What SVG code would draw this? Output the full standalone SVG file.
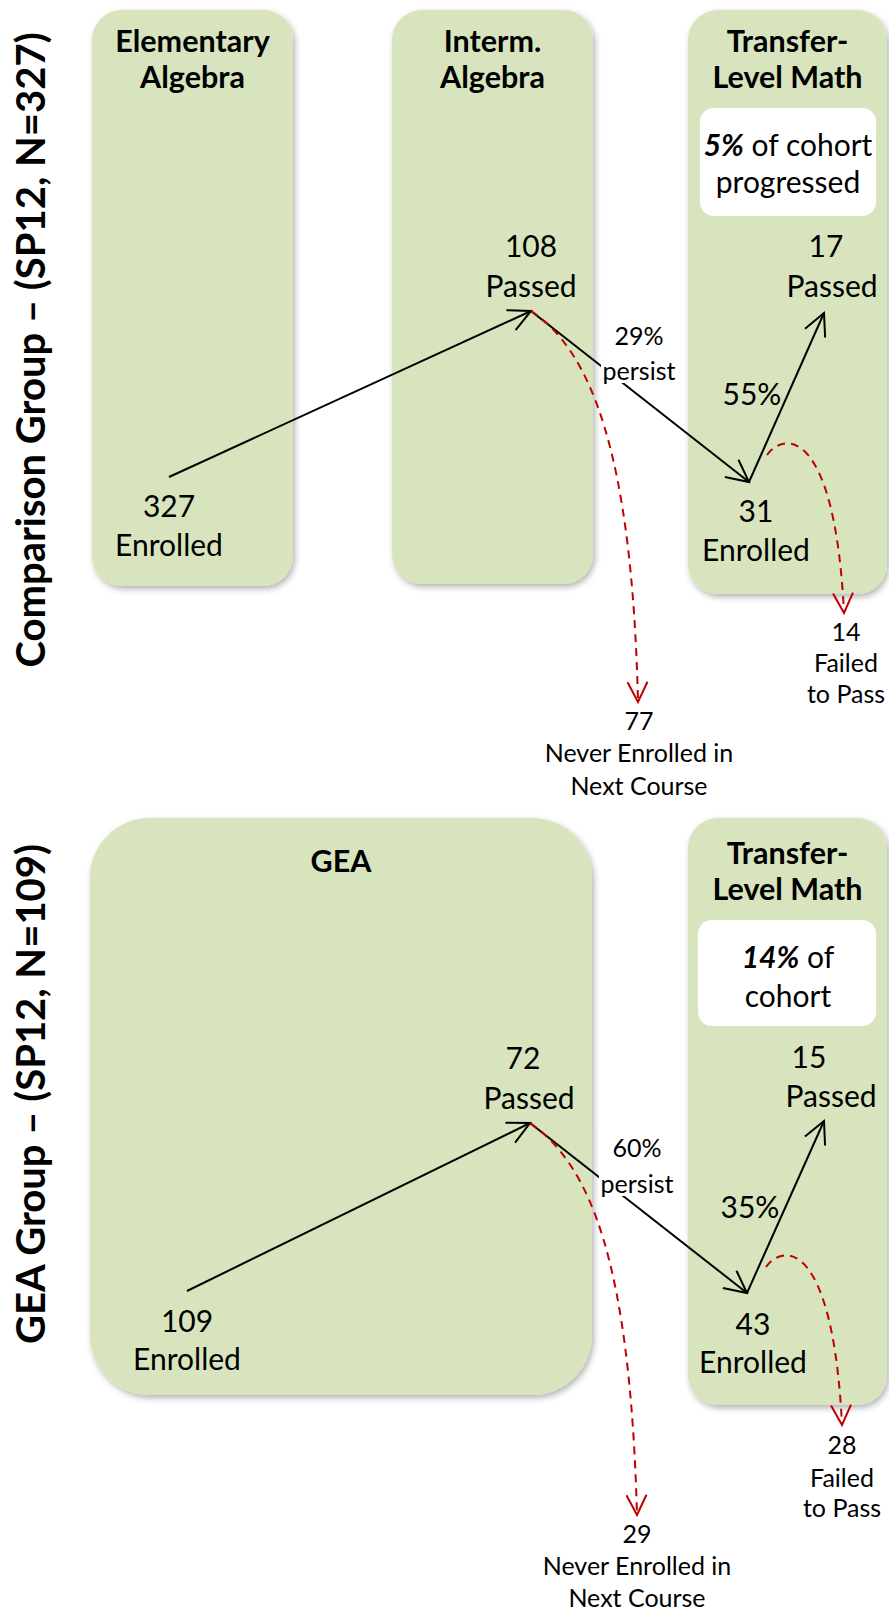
<svg xmlns="http://www.w3.org/2000/svg" width="889" height="1611" viewBox="0 0 889 1611">
<style>
text{font-family:Lato,"Liberation Sans",sans-serif;fill:#000;text-anchor:middle}
.box{fill:#D7E4BD;filter:url(#sh)}
.wbox{fill:#fff}
.h{font-weight:bold;font-size:30.5px}
.m{font-size:30px}
.s{font-size:25px}
.side{font-weight:bold;font-size:40px}
.ln{fill:none;stroke:#000;stroke-width:2;marker-end:url(#ab)}
.rd{fill:none;stroke:#C00000;stroke-width:2;stroke-dasharray:8 6;marker-end:url(#ar)}
</style>
<defs>
<filter id="sh" x="-10%" y="-10%" width="120%" height="120%">
<feDropShadow dx="2" dy="3" stdDeviation="3" flood-color="#000" flood-opacity="0.3"/>
</filter>
<marker id="ab" markerUnits="userSpaceOnUse" markerWidth="26" markerHeight="26" refX="22" refY="11" orient="auto" viewBox="-2 -2 26 26">
<path d="M0,0 L22,11 L0,22" fill="none" stroke="#000" stroke-width="2"/>
</marker>
<marker id="ar" markerUnits="userSpaceOnUse" markerWidth="24" markerHeight="24" refX="20" refY="10" orient="auto" viewBox="-2 -2 24 24">
<path d="M0,0 L20,10 L0,20" fill="none" stroke="#C00000" stroke-width="2"/>
</marker>
</defs>

<g id="label-comparison"><text class="side" transform="translate(45,350) rotate(-90)">Comparison Group – (SP12, N=327)</text></g>
<g id="label-gea"><text class="side" transform="translate(45,1094) rotate(-90)">GEA Group – (SP12, N=109)</text></g>

<g id="elementary">
<rect class="box" x="92" y="10" width="201" height="576" rx="30"/>
<text class="h" x="192.5" y="52">Elementary</text>
<text class="h" x="192.5" y="88">Algebra</text>
<text class="m" x="169" y="517">327</text>
<text class="m" x="169" y="556">Enrolled</text>
</g>
<g id="intermediate">
<rect class="box" x="392" y="10" width="201" height="574" rx="30"/>
<text class="h" x="492.5" y="52">Interm.</text>
<text class="h" x="492.5" y="88">Algebra</text>
<text class="m" x="531" y="257">108</text>
<text class="m" x="531" y="297">Passed</text>
</g>
<g id="transfer-top">
<rect class="box" x="688" y="10" width="199" height="584" rx="30"/>
<text class="h" x="787.5" y="52">Transfer-</text>
<text class="h" x="787.5" y="88">Level Math</text>
<rect class="wbox" x="700" y="108" width="176" height="108" rx="14"/>
<text class="m" x="788" y="156"><tspan font-weight="bold" font-style="italic">5%</tspan> of cohort</text>
<text class="m" x="788" y="193">progressed</text>
<text class="m" x="826" y="257">17</text>
<text class="m" x="832" y="297">Passed</text>
<text class="m" x="756" y="522">31</text>
<text class="m" x="756" y="561">Enrolled</text>
</g>

<g id="gea">
<rect class="box" x="90" y="818" width="502" height="577" rx="60"/>
<text class="h" x="341" y="872">GEA</text>
<text class="m" x="187" y="1332">109</text>
<text class="m" x="187" y="1370">Enrolled</text>
<text class="m" x="523" y="1069">72</text>
<text class="m" x="529" y="1109">Passed</text>
</g>
<g id="transfer-bottom">
<rect class="box" x="688" y="818" width="199" height="587" rx="30"/>
<text class="h" x="787.5" y="864">Transfer-</text>
<text class="h" x="787.5" y="900">Level Math</text>
<rect class="wbox" x="698" y="920" width="178" height="106" rx="14"/>
<text class="m" x="788" y="968"><tspan font-weight="bold" font-style="italic">14%</tspan> of</text>
<text class="m" x="788" y="1007">cohort</text>
<text class="m" x="809" y="1068">15</text>
<text class="m" x="831" y="1107">Passed</text>
<text class="m" x="753" y="1335">43</text>
<text class="m" x="753" y="1373">Enrolled</text>
</g>

<g id="connectors">
<path class="ln" d="M169,477 L531,311"/>
<path class="ln" d="M531,311 L749,482"/>
<path class="ln" d="M749,482 L824,313"/>
<path class="rd" d="M531,311 C590,350 632,450 638,702"/>
<path class="rd" d="M767,455 C785,430 835,430 844,613"/>
<path class="ln" d="M187,1291 L530,1123"/>
<path class="ln" d="M530,1123 L747,1293"/>
<path class="ln" d="M747,1293 L824,1121"/>
<path class="rd" d="M530,1123 C590,1165 630,1260 637,1515"/>
<path class="rd" d="M766,1267 C784,1242 833,1242 842,1425"/>
</g>

<g id="label-persist-top">
<rect fill="#fff" x="601" y="320" width="76" height="63"/>
<text class="s" x="639" y="345">29%</text>
<text class="s" x="639" y="380">persist</text>
</g>
<g id="label-55"><text class="m" x="752" y="405">55%</text></g>
<g id="label-failed-top">
<text class="s" x="846" y="641">14</text>
<text class="s" x="846" y="672">Failed</text>
<text class="s" x="846" y="703">to Pass</text>
</g>
<g id="label-never-top">
<text class="s" x="639" y="730">77</text>
<text class="s" x="639" y="762">Never Enrolled in</text>
<text class="s" x="639" y="795">Next Course</text>
</g>

<g id="label-persist-bottom">
<rect fill="#fff" x="599" y="1130" width="78" height="66"/>
<text class="s" x="637" y="1157">60%</text>
<text class="s" x="637" y="1193">persist</text>
</g>
<g id="label-35"><text class="m" x="750" y="1218">35%</text></g>
<g id="label-failed-bottom">
<text class="s" x="842" y="1454">28</text>
<text class="s" x="842" y="1487">Failed</text>
<text class="s" x="842" y="1517">to Pass</text>
</g>
<g id="label-never-bottom">
<text class="s" x="637" y="1543">29</text>
<text class="s" x="637" y="1575">Never Enrolled in</text>
<text class="s" x="637" y="1607">Next Course</text>
</g>
</svg>
